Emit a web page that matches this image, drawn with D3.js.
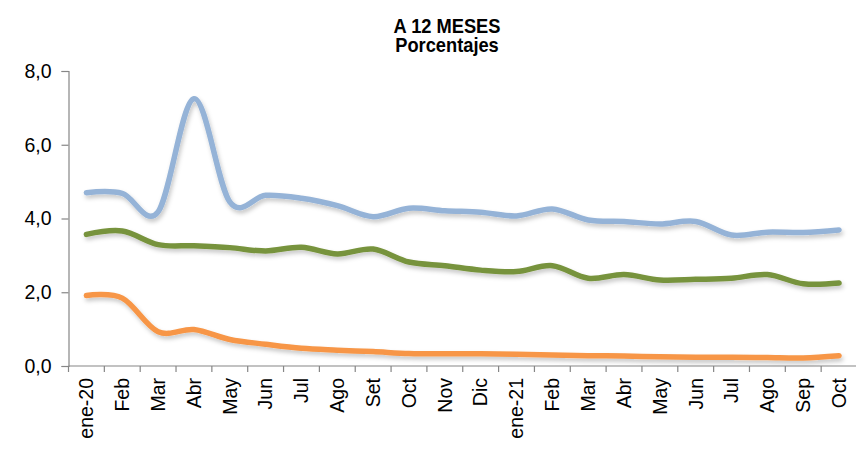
<!DOCTYPE html>
<html>
<head>
<meta charset="utf-8">
<script src="https://cdn.jsdelivr.net/npm/d3@7"></script>
<style>
  html, body { margin: 0; padding: 0; background: #fff; }
  svg { display: block; }
  text { font-family: "Liberation Sans", Arial, sans-serif; fill: #000; }
</style>
</head>
<body>
<svg id="chart" width="856" height="449"></svg>
<script>
// Monthly categories (Jan 2020 – Oct 2021)
const categories = ["ene-20","Feb","Mar","Abr","May","Jun","Jul","Ago","Set","Oct","Nov","Dic",
                    "ene-21","Feb","Mar","Abr","May","Jun","Jul","Ago","Sep","Oct"];

// 12-month rates, percent
const serieAzul    = [4.70,4.68,4.18,7.25,4.45,4.63,4.55,4.35,4.05,4.28,4.21,4.17,
                      4.07,4.26,3.96,3.92,3.85,3.92,3.55,3.63,3.62,3.69];
const serieVerde   = [3.57,3.66,3.29,3.26,3.21,3.12,3.22,3.04,3.17,2.82,2.72,2.60,
                      2.56,2.72,2.38,2.48,2.33,2.35,2.38,2.48,2.23,2.25];
const serieNaranja = [1.91,1.84,0.93,0.99,0.72,0.59,0.48,0.43,0.39,0.34,0.33,0.33,
                      0.32,0.30,0.28,0.27,0.25,0.24,0.24,0.23,0.22,0.28];

const yTicks = [0, 2, 4, 6, 8];
const titleLines = ["A 12 MESES", "Porcentajes"];

const series = [
  { name: "azul",    values: serieAzul,    color: "#95B3D7" },
  { name: "verde",   values: serieVerde,   color: "#77933C" },
  { name: "naranja", values: serieNaranja, color: "#F79646" }
];

const svg = d3.select("#chart");
const plotLeft = 68.5, plotRight = 857, plotTop = 71, plotBottom = 366;

const x = d3.scaleBand().domain(d3.range(categories.length)).range([plotLeft, plotRight]);
const y = d3.scaleLinear().domain([0, 8]).range([plotBottom, plotTop]);
const fmt = v => d3.format(".1f")(v).replace(".", ",");

// soft drop shadow under the lines
const defs = svg.append("defs");
const f = defs.append("filter").attr("id", "shadow")
  .attr("x", "-5%").attr("y", "-20%").attr("width", "110%").attr("height", "160%");
f.append("feDropShadow").attr("dx", 1.5).attr("dy", 3).attr("stdDeviation", 2)
  .attr("flood-color", "#000").attr("flood-opacity", 0.22);

// title
const title = svg.append("g");
titleLines.forEach((t, i) => {
  title.append("text")
    .attr("transform", `translate(447,${i === 0 ? 33.3 : 51.8}) scale(0.87,1)`)
    .attr("text-anchor", "middle")
    .style("font-size", "21px").style("font-weight", "bold")
    .text(t);
});

// y axis
const yAxis = svg.append("g").attr("transform", `translate(${plotLeft},0)`)
  .call(d3.axisLeft(y).tickValues(yTicks).tickFormat(fmt).tickSize(7).tickPadding(10));
yAxis.select(".domain").attr("stroke", "#868686").attr("stroke-width", 1.2);
yAxis.selectAll(".tick line").attr("stroke", "#868686").attr("stroke-width", 1.2);
yAxis.selectAll(".tick text").style("font-size", "19.5px")
  .style("font-family", "'Liberation Sans', Arial, sans-serif").attr("fill", "#000");

// x axis: ticks on category boundaries
const xAxisG = svg.append("g").attr("transform", `translate(0,${plotBottom})`);
xAxisG.append("line").attr("x1", plotLeft).attr("x2", plotRight).attr("y1", 0).attr("y2", 0)
  .attr("stroke", "#868686").attr("stroke-width", 1.2);
const bounds = d3.range(categories.length + 1).map(i => plotLeft + i * x.step());
xAxisG.selectAll("line.b").data(bounds).join("line").attr("class", "b")
  .attr("x1", d => d).attr("x2", d => d).attr("y1", 0).attr("y2", 6)
  .attr("stroke", "#868686").attr("stroke-width", 1.2);
xAxisG.selectAll("text").data(categories).join("text")
  .attr("transform", (d, i) => `translate(${x(i) + x.bandwidth() / 2},12) rotate(-90)`)
  .attr("text-anchor", "end").attr("dy", "0.35em")
  .style("font-size", "19.5px")
  .text(d => d);

// smoothed lines
const line = d3.line()
  .x((d, i) => x(i) + x.bandwidth() / 2)
  .y(d => y(d))
  .curve(d3.curveCardinal.tension(0));

svg.append("g").selectAll("path").data(series).join("path")
  .attr("d", d => line(d.values))
  .attr("fill", "none")
  .attr("stroke", d => d.color)
  .attr("stroke-width", 5.5)
  .attr("stroke-linecap", "round")
  .attr("stroke-linejoin", "round")
  .attr("filter", "url(#shadow)");
</script>
</body>
</html>
